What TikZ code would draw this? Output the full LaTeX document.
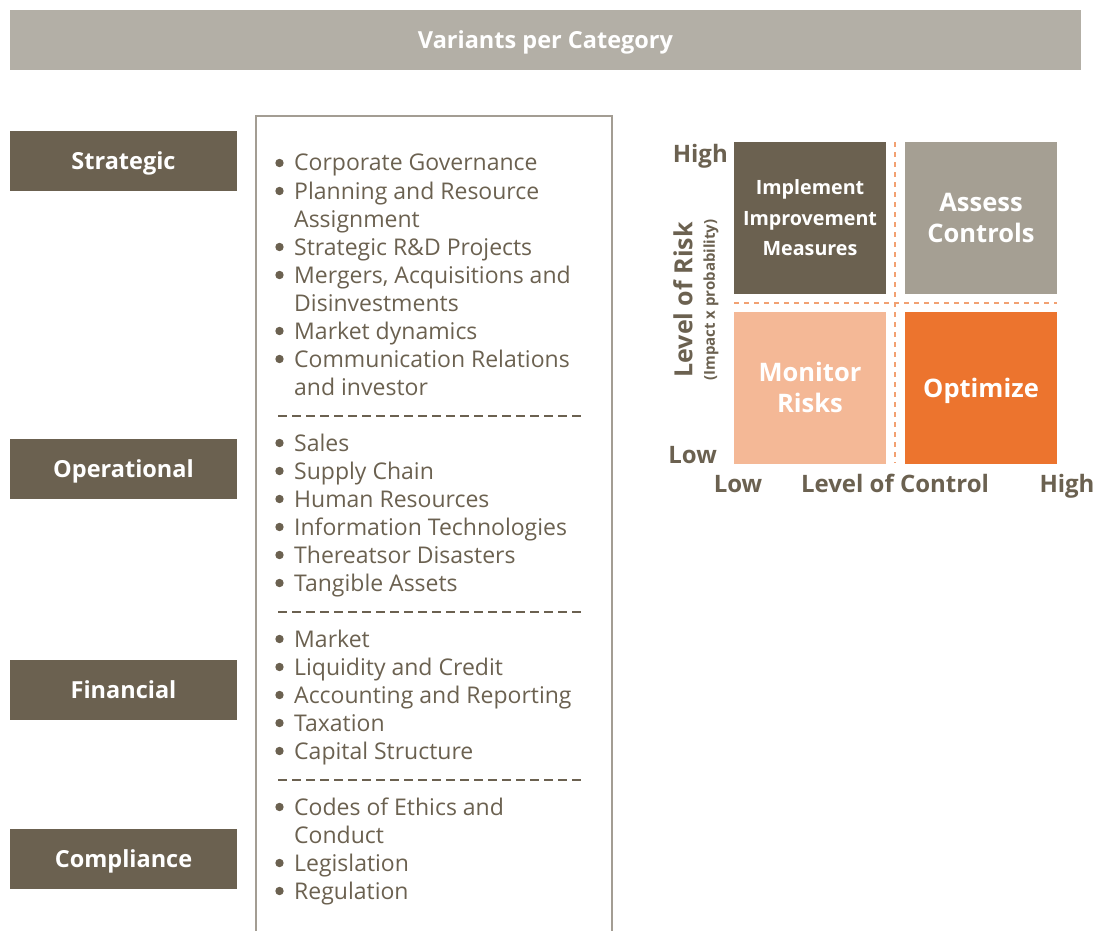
\documentclass[tikz,border=0pt]{standalone}
\usepackage{fontspec}
\setmainfont{Open Sans}
\usetikzlibrary{calc}
\definecolor{barGray}{HTML}{B3AFA6}
\definecolor{catBrown}{HTML}{6B6150}
\definecolor{lineGray}{HTML}{A39D93}
\definecolor{quadGray}{HTML}{A59F93}
\definecolor{quadPeach}{HTML}{F4B896}
\definecolor{quadOrange}{HTML}{EC742E}
\definecolor{dashOrange}{HTML}{F2A172}

\begin{document}
\begin{tikzpicture}[x=1pt,y=-1pt,
    catbox/.style={fill=catBrown, text=white, minimum width=227pt, minimum height=60pt,
        inner sep=0pt, text depth=0pt, font=\fontsize{23.5}{26}\selectfont\bfseries},
    quad/.style={minimum width=152pt, minimum height=152pt, inner sep=0pt, text=white,
        text depth=0pt, align=center, font=\fontsize{25.5}{31}\selectfont\bfseries},
    item/.style={anchor=base west, inner sep=0pt, text=catBrown,
        font=\fontsize{23}{26}\selectfont},
    axislbl/.style={text=catBrown, inner sep=0pt, anchor=base, font=\fontsize{24}{27}\selectfont\bfseries},
    sepline/.style={catBrown, line width=2pt, dash pattern=on 9pt off 5pt},
    quadline/.style={dashOrange, line width=1.5pt, dash pattern=on 5pt off 5pt}]
    \useasboundingbox (0,0) rectangle (1111,931);

    % header bar
    \node[fill=barGray, text=white, minimum width=1071pt, minimum height=60pt, inner sep=0pt,
        text depth=0pt, font=\fontsize{23.5}{26}\selectfont\bfseries] (head) at (545.5,40)
        {Variants per Category};

    % categories
    \node[catbox] (strat) at (123.5,161) {Strategic};
    \node[catbox] (oper) at (123.5,469) {Operational};
    \node[catbox] (fin) at (123.5,690) {Financial};
    \node[catbox] (comp) at (123.5,859) {Compliance};

    % list frame (open at the bottom)
    \draw[lineGray, line width=1.5pt] (256,931) -- (256,116) -- (612,116) -- (612,931);

    % list lines
    \foreach \y/\b/\t in {163/1/Corporate Governance, 191/1/Planning and Resource,
        219/0/Assignment, 247/1/Strategic R\&D Projects, 275/1/{Mergers, Acquisitions and},
        303/0/Disinvestments, 331/1/Market dynamics, 359/1/Communication Relations,
        387/0/and investor,
        443/1/Sales, 471/1/Supply Chain, 499/1/Human Resources, 527/1/Information Technologies,
        555/1/Thereatsor Disasters, 583/1/Tangible Assets,
        639/1/Market, 667/1/Liquidity and Credit, 695/1/Accounting and Reporting,
        723/1/Taxation, 751/1/Capital Structure,
        807/1/Codes of Ethics and, 835/0/Conduct, 863/1/Legislation, 891/1/Regulation} {
        \node[item] (l\y) at (294,\y+8) {\t};
        \ifnum\b=1
            \fill[catBrown] (279.5,\y) circle (4.2pt);
        \fi
    }

    % separators
    \foreach \y in {416,612,780} {
        \draw[sepline] (278,\y) -- (582,\y);
    }

    % risk matrix
    \node[quad, fill=catBrown, font=\fontsize{19.7}{30.5}\selectfont\bfseries] (impl) at (810,218)
        {Implement\\Improvement\\Measures};
    \node[quad, fill=quadGray] (assess) at (981,218) {Assess\\Controls};
    \node[quad, fill=quadPeach] (monit) at (810,387.5) {Monitor\\Risks};
    \node[quad, fill=quadOrange] (optim) at (981,387.5) {Optimize};

    \draw[quadline] (895,142) -- (895,463);
    \draw[quadline] (734,303) -- (1057,303);

    % axes
    \node[axislbl, anchor=base east] (yhigh) at (728,163) {High};
    \node[axislbl, anchor=base east] (ylow) at (717,463) {Low};
    \node[axislbl] (xlow) at (738,492) {Low};
    \node[axislbl] (xlbl) at (895,492) {Level of Control};
    \node[axislbl] (xhigh) at (1067,492) {High};
    \node[axislbl, anchor=center, rotate=90, font=\fontsize{25}{30}\selectfont\bfseries] (ylbl)
        at (683,300) {Level of Risk};
    \node[axislbl, anchor=center, rotate=90, font=\fontsize{15}{18}\selectfont\bfseries] (ysub)
        at (711,300) {(Impact x probability)};

\end{tikzpicture}
\end{document}
